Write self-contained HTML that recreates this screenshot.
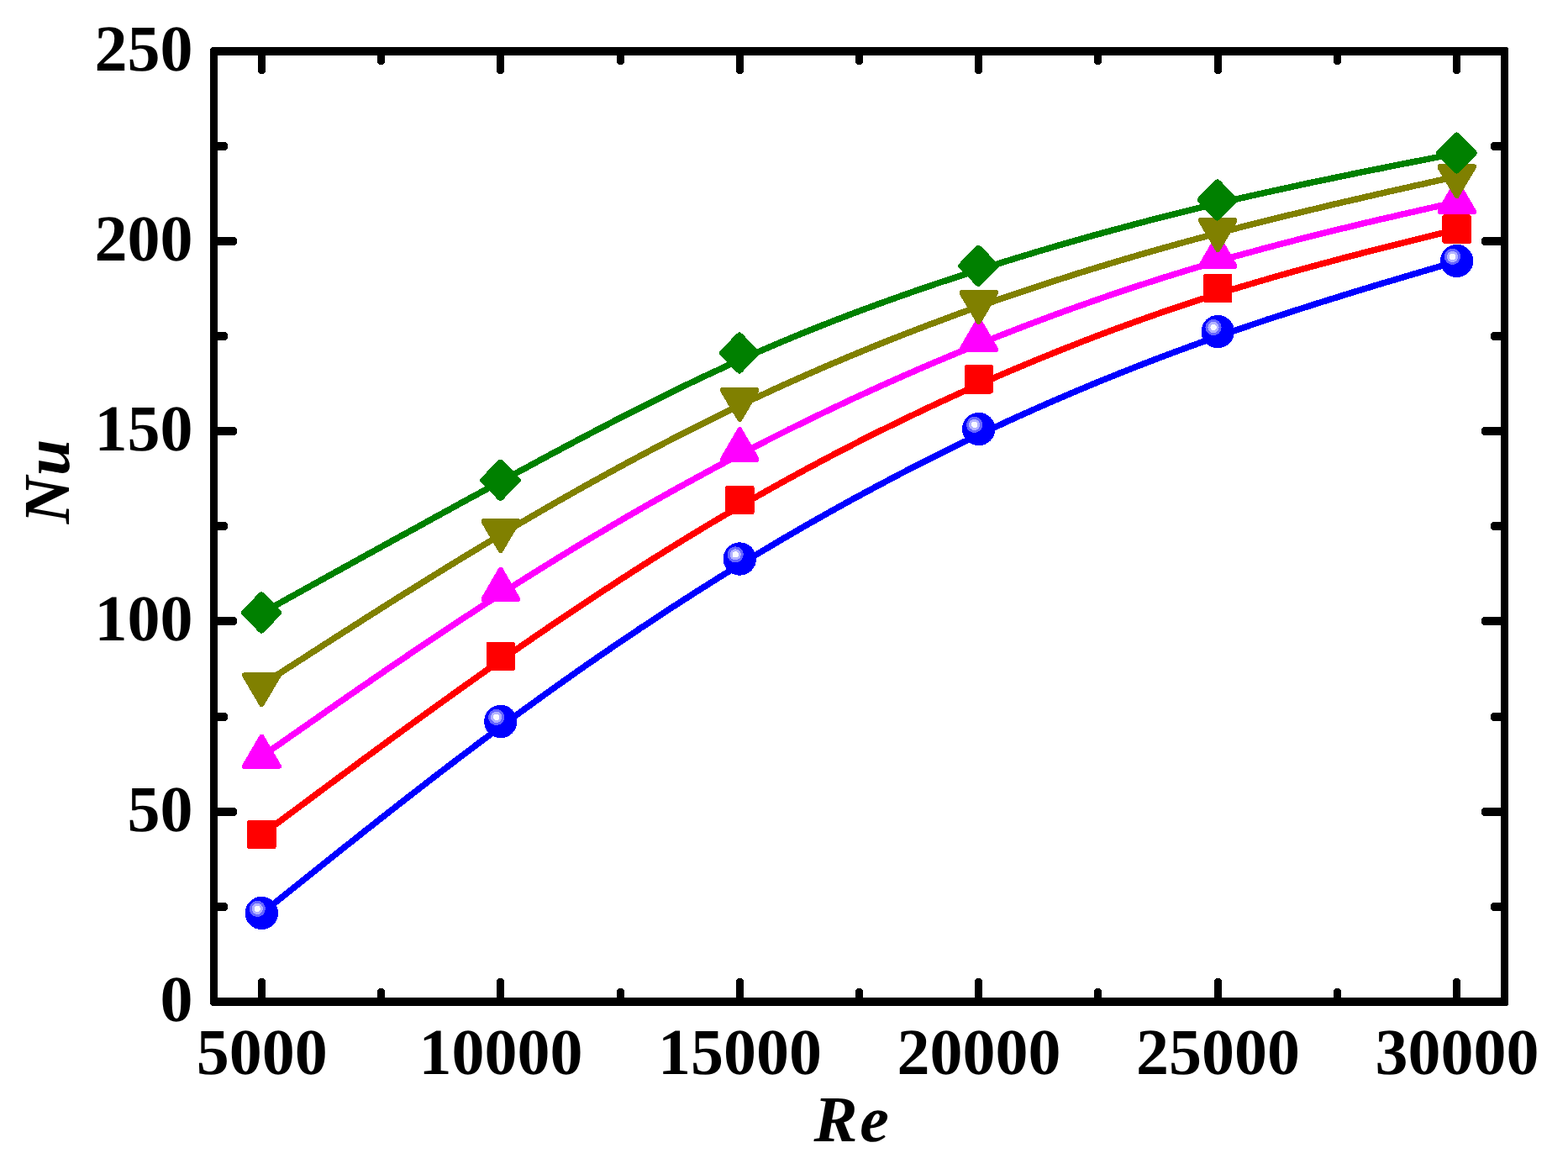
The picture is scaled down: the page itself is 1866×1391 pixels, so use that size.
<!DOCTYPE html>
<html lang="en">
<head>
<meta charset="utf-8">
<title>Nu versus Re</title>
<style>
html,body{margin:0;padding:0;background:#ffffff;}
body{width:1866px;height:1391px;overflow:hidden;}
svg{display:block;}
text{font-family:"Liberation Serif",serif;font-weight:bold;fill:#000000;text-rendering:geometricPrecision;}
.tick{font-size:78px;}
.title{font-size:78px;font-style:italic;}
</style>
</head>
<body>
<svg width="1866" height="1391" viewBox="0 0 1866 1391">
<rect x="0" y="0" width="1866" height="1391" fill="#ffffff"/>

<g id="series-blue" shape-rendering="crispEdges">
<path d="M311.4,1087.0 L311.4,1087.0 L311.4,1087.0 L311.5,1086.9 L311.6,1086.8 L311.8,1086.7 L312.1,1086.4 L312.6,1086.1 L313.1,1085.6 L313.9,1085.0 L314.8,1084.3 L316.0,1083.3 L317.3,1082.3 L318.9,1081.0 L320.8,1079.5 L323.0,1077.7 L325.4,1075.7 L328.2,1073.5 L331.4,1071.0 L334.9,1068.1 L338.8,1065.0 L343.1,1061.5 L347.9,1057.7 L353.1,1053.6 L358.8,1049.0 L365.0,1044.1 L371.6,1038.7 L378.7,1033.1 L386.2,1027.0 L394.2,1020.7 L402.5,1014.1 L411.2,1007.1 L420.3,1000.0 L429.6,992.5 L439.3,984.9 L449.3,977.0 L459.5,969.0 L470.0,960.8 L480.7,952.4 L491.7,943.9 L502.8,935.3 L514.0,926.6 L525.5,917.8 L537.0,909.0 L548.6,900.2 L560.4,891.3 L572.2,882.4 L584.0,873.6 L595.8,864.7 L607.7,856.0 L619.5,847.3 L631.4,838.7 L643.2,830.1 L655.1,821.6 L666.9,813.2 L678.8,804.8 L690.6,796.4 L702.5,788.2 L714.4,780.0 L726.2,771.9 L738.1,763.8 L749.9,755.8 L761.8,747.8 L773.6,740.0 L785.5,732.1 L797.3,724.4 L809.2,716.7 L821.0,709.1 L832.9,701.5 L844.7,694.1 L856.6,686.6 L868.4,679.3 L880.3,672.0 L892.1,664.8 L904.0,657.6 L915.8,650.6 L927.7,643.5 L939.5,636.6 L951.4,629.7 L963.2,622.9 L975.1,616.2 L986.9,609.5 L998.8,602.9 L1010.6,596.3 L1022.5,589.9 L1034.4,583.5 L1046.2,577.1 L1058.1,570.9 L1069.9,564.6 L1081.8,558.5 L1093.6,552.4 L1105.5,546.4 L1117.3,540.5 L1129.2,534.6 L1141.0,528.8 L1152.9,523.1 L1164.7,517.4 L1176.6,511.8 L1188.4,506.3 L1200.3,500.8 L1212.1,495.4 L1224.0,490.1 L1235.8,484.8 L1247.7,479.6 L1259.5,474.5 L1271.4,469.4 L1283.2,464.4 L1295.1,459.4 L1306.9,454.5 L1318.8,449.7 L1330.6,444.9 L1342.5,440.2 L1354.4,435.5 L1366.2,430.9 L1378.1,426.4 L1389.9,421.9 L1401.8,417.5 L1413.6,413.2 L1425.5,408.8 L1437.3,404.6 L1449.2,400.4 L1461.0,396.3 L1472.8,392.2 L1484.6,388.2 L1496.4,384.2 L1508.0,380.3 L1519.5,376.5 L1531.0,372.8 L1542.2,369.2 L1553.3,365.6 L1564.3,362.1 L1575.0,358.7 L1585.5,355.5 L1595.7,352.3 L1605.7,349.2 L1615.4,346.2 L1624.7,343.4 L1633.8,340.6 L1642.5,338.0 L1650.8,335.5 L1658.8,333.2 L1666.3,330.9 L1673.4,328.8 L1680.0,326.8 L1686.2,325.0 L1691.9,323.3 L1697.1,321.8 L1701.9,320.4 L1706.2,319.1 L1710.1,318.0 L1713.6,316.9 L1716.8,316.0 L1719.6,315.2 L1722.0,314.4 L1724.2,313.8 L1726.1,313.2 L1727.7,312.8 L1729.0,312.3 L1730.2,312.0 L1731.1,311.7 L1731.9,311.5 L1732.4,311.3 L1732.9,311.2 L1733.2,311.1 L1733.4,311.1 L1733.5,311.0 L1733.6,311.0 L1733.6,311.0 L1733.6,311.0" fill="none" stroke="#0000ff" stroke-width="7.5" stroke-linejoin="round" stroke-linecap="round"/>
<g fill="#0000ff" stroke="#0000ff" stroke-width="8.0" stroke-linejoin="round">
<circle cx="311.4" cy="1086.5" r="19.7" stroke="none"/>
<circle cx="306.3" cy="1081.4" r="9.6" fill="#6666ff" stroke="none"/>
<circle cx="306.3" cy="1081.4" r="6.6" fill="#b2b2ff" stroke="none"/>
<circle cx="306.3" cy="1081.4" r="3.6" fill="#fafaff" stroke="none"/>
<circle cx="595.8" cy="858.5" r="19.7" stroke="none"/>
<circle cx="590.7" cy="853.4" r="9.6" fill="#6666ff" stroke="none"/>
<circle cx="590.7" cy="853.4" r="6.6" fill="#b2b2ff" stroke="none"/>
<circle cx="590.7" cy="853.4" r="3.6" fill="#fafaff" stroke="none"/>
<circle cx="880.3" cy="665.0" r="19.7" stroke="none"/>
<circle cx="875.2" cy="659.9" r="9.6" fill="#6666ff" stroke="none"/>
<circle cx="875.2" cy="659.9" r="6.6" fill="#b2b2ff" stroke="none"/>
<circle cx="875.2" cy="659.9" r="3.6" fill="#fafaff" stroke="none"/>
<circle cx="1164.7" cy="510.5" r="19.7" stroke="none"/>
<circle cx="1159.6" cy="505.4" r="9.6" fill="#6666ff" stroke="none"/>
<circle cx="1159.6" cy="505.4" r="6.6" fill="#b2b2ff" stroke="none"/>
<circle cx="1159.6" cy="505.4" r="3.6" fill="#fafaff" stroke="none"/>
<circle cx="1449.2" cy="394.6" r="19.7" stroke="none"/>
<circle cx="1444.1" cy="389.5" r="9.6" fill="#6666ff" stroke="none"/>
<circle cx="1444.1" cy="389.5" r="6.6" fill="#b2b2ff" stroke="none"/>
<circle cx="1444.1" cy="389.5" r="3.6" fill="#fafaff" stroke="none"/>
<circle cx="1733.6" cy="310.5" r="19.7" stroke="none"/>
<circle cx="1728.5" cy="305.4" r="9.6" fill="#6666ff" stroke="none"/>
<circle cx="1728.5" cy="305.4" r="6.6" fill="#b2b2ff" stroke="none"/>
<circle cx="1728.5" cy="305.4" r="3.6" fill="#fafaff" stroke="none"/>
</g></g>
<g id="series-red" shape-rendering="crispEdges">
<path d="M311.4,993.4 L311.4,993.4 L311.4,993.4 L311.5,993.3 L311.6,993.2 L311.8,993.1 L312.1,992.8 L312.6,992.5 L313.1,992.1 L313.9,991.5 L314.8,990.8 L316.0,990.0 L317.3,989.0 L318.9,987.8 L320.8,986.4 L323.0,984.8 L325.4,982.9 L328.2,980.8 L331.4,978.5 L334.9,975.9 L338.8,973.0 L343.1,969.7 L347.9,966.2 L353.1,962.3 L358.8,958.1 L365.0,953.5 L371.6,948.5 L378.7,943.3 L386.2,937.7 L394.2,931.8 L402.5,925.6 L411.2,919.2 L420.3,912.5 L429.6,905.5 L439.3,898.4 L449.3,891.1 L459.5,883.6 L470.0,875.9 L480.7,868.1 L491.7,860.1 L502.8,852.1 L514.0,844.0 L525.5,835.7 L537.0,827.5 L548.6,819.1 L560.4,810.8 L572.2,802.4 L584.0,794.1 L595.8,785.8 L607.7,777.5 L619.5,769.3 L631.4,761.1 L643.2,753.0 L655.1,744.9 L666.9,736.9 L678.8,728.9 L690.6,721.0 L702.5,713.1 L714.4,705.3 L726.2,697.6 L738.1,689.9 L749.9,682.2 L761.8,674.7 L773.6,667.1 L785.5,659.7 L797.3,652.3 L809.2,645.0 L821.0,637.7 L832.9,630.5 L844.7,623.4 L856.6,616.4 L868.4,609.4 L880.3,602.5 L892.1,595.7 L904.0,588.9 L915.8,582.2 L927.7,575.6 L939.5,569.1 L951.4,562.6 L963.2,556.2 L975.1,549.9 L986.9,543.6 L998.8,537.4 L1010.6,531.3 L1022.5,525.2 L1034.4,519.2 L1046.2,513.3 L1058.1,507.5 L1069.9,501.7 L1081.8,496.0 L1093.6,490.3 L1105.5,484.7 L1117.3,479.2 L1129.2,473.7 L1141.0,468.3 L1152.9,463.0 L1164.7,457.7 L1176.6,452.5 L1188.4,447.3 L1200.3,442.2 L1212.1,437.2 L1224.0,432.2 L1235.8,427.3 L1247.7,422.5 L1259.5,417.7 L1271.4,413.0 L1283.2,408.3 L1295.1,403.7 L1306.9,399.2 L1318.8,394.7 L1330.6,390.3 L1342.5,386.0 L1354.4,381.7 L1366.2,377.5 L1378.1,373.3 L1389.9,369.2 L1401.8,365.2 L1413.6,361.3 L1425.5,357.4 L1437.3,353.6 L1449.2,349.8 L1461.0,346.1 L1472.8,342.5 L1484.6,339.0 L1496.4,335.5 L1508.0,332.1 L1519.5,328.7 L1531.0,325.5 L1542.2,322.3 L1553.3,319.3 L1564.3,316.3 L1575.0,313.4 L1585.5,310.6 L1595.7,307.8 L1605.7,305.2 L1615.4,302.7 L1624.7,300.3 L1633.8,298.0 L1642.5,295.7 L1650.8,293.6 L1658.8,291.7 L1666.3,289.8 L1673.4,288.0 L1680.0,286.4 L1686.2,284.8 L1691.9,283.4 L1697.1,282.1 L1701.9,281.0 L1706.2,279.9 L1710.1,278.9 L1713.6,278.1 L1716.8,277.3 L1719.6,276.6 L1722.0,276.0 L1724.2,275.4 L1726.1,275.0 L1727.7,274.6 L1729.0,274.2 L1730.2,273.9 L1731.1,273.7 L1731.9,273.5 L1732.4,273.4 L1732.9,273.3 L1733.2,273.2 L1733.4,273.2 L1733.5,273.1 L1733.6,273.1 L1733.6,273.1 L1733.6,273.1" fill="none" stroke="#ff0000" stroke-width="7.5" stroke-linejoin="round" stroke-linecap="round"/>
<g fill="#ff0000" stroke="#ff0000" stroke-width="8.0" stroke-linejoin="round">
<rect x="294.2" y="975.7" width="34.4" height="34.4" rx="2.6" stroke="none"/>
<rect x="578.6" y="763.8" width="34.4" height="34.4" rx="2.6" stroke="none"/>
<rect x="863.1" y="577.7" width="34.4" height="34.4" rx="2.6" stroke="none"/>
<rect x="1147.5" y="434.1" width="34.4" height="34.4" rx="2.6" stroke="none"/>
<rect x="1432.0" y="325.8" width="34.4" height="34.4" rx="2.6" stroke="none"/>
<rect x="1716.4" y="255.4" width="34.4" height="34.4" rx="2.6" stroke="none"/>
</g></g>
<g id="series-magenta" shape-rendering="crispEdges">
<path d="M311.4,900.2 L311.4,900.2 L311.4,900.2 L311.5,900.1 L311.6,900.0 L311.8,899.9 L312.1,899.7 L312.6,899.4 L313.1,899.0 L313.9,898.5 L314.8,897.8 L316.0,897.0 L317.3,896.1 L318.9,894.9 L320.8,893.6 L323.0,892.1 L325.4,890.4 L328.2,888.4 L331.4,886.2 L334.9,883.8 L338.8,881.0 L343.1,878.0 L347.9,874.7 L353.1,871.0 L358.8,867.1 L365.0,862.8 L371.6,858.1 L378.7,853.2 L386.2,847.9 L394.2,842.4 L402.5,836.6 L411.2,830.6 L420.3,824.3 L429.6,817.8 L439.3,811.2 L449.3,804.3 L459.5,797.3 L470.0,790.2 L480.7,782.9 L491.7,775.5 L502.8,768.0 L514.0,760.5 L525.5,752.9 L537.0,745.2 L548.6,737.5 L560.4,729.8 L572.2,722.1 L584.0,714.4 L595.8,706.8 L607.7,699.2 L619.5,691.7 L631.4,684.2 L643.2,676.8 L655.1,669.5 L666.9,662.2 L678.8,654.9 L690.6,647.8 L702.5,640.6 L714.4,633.6 L726.2,626.6 L738.1,619.6 L749.9,612.7 L761.8,605.9 L773.6,599.1 L785.5,592.4 L797.3,585.8 L809.2,579.2 L821.0,572.7 L832.9,566.2 L844.7,559.8 L856.6,553.4 L868.4,547.2 L880.3,540.9 L892.1,534.8 L904.0,528.7 L915.8,522.6 L927.7,516.7 L939.5,510.7 L951.4,504.9 L963.2,499.1 L975.1,493.4 L986.9,487.7 L998.8,482.1 L1010.6,476.5 L1022.5,471.0 L1034.4,465.6 L1046.2,460.2 L1058.1,454.9 L1069.9,449.6 L1081.8,444.4 L1093.6,439.2 L1105.5,434.1 L1117.3,429.1 L1129.2,424.1 L1141.0,419.2 L1152.9,414.3 L1164.7,409.5 L1176.6,404.8 L1188.4,400.1 L1200.3,395.4 L1212.1,390.8 L1224.0,386.3 L1235.8,381.8 L1247.7,377.4 L1259.5,373.0 L1271.4,368.7 L1283.2,364.5 L1295.1,360.3 L1306.9,356.1 L1318.8,352.0 L1330.6,348.0 L1342.5,344.0 L1354.4,340.1 L1366.2,336.3 L1378.1,332.5 L1389.9,328.7 L1401.8,325.1 L1413.6,321.4 L1425.5,317.9 L1437.3,314.4 L1449.2,310.9 L1461.0,307.5 L1472.8,304.2 L1484.6,301.0 L1496.4,297.8 L1508.0,294.6 L1519.5,291.6 L1531.0,288.6 L1542.2,285.7 L1553.3,282.8 L1564.3,280.1 L1575.0,277.4 L1585.5,274.8 L1595.7,272.3 L1605.7,269.9 L1615.4,267.6 L1624.7,265.3 L1633.8,263.2 L1642.5,261.1 L1650.8,259.2 L1658.8,257.4 L1666.3,255.6 L1673.4,254.0 L1680.0,252.5 L1686.2,251.0 L1691.9,249.7 L1697.1,248.6 L1701.9,247.5 L1706.2,246.5 L1710.1,245.6 L1713.6,244.8 L1716.8,244.1 L1719.6,243.4 L1722.0,242.8 L1724.2,242.4 L1726.1,241.9 L1727.7,241.6 L1729.0,241.2 L1730.2,241.0 L1731.1,240.8 L1731.9,240.6 L1732.4,240.5 L1732.9,240.4 L1733.2,240.3 L1733.4,240.3 L1733.5,240.2 L1733.6,240.2 L1733.6,240.2 L1733.6,240.2" fill="none" stroke="#ff00ff" stroke-width="7.5" stroke-linejoin="round" stroke-linecap="round"/>
<g fill="#ff00ff" stroke="#ff00ff" stroke-width="8.0" stroke-linejoin="round">
<polygon stroke="none" points="290.2,915.0 332.6,915.0 334.5,913.9 334.5,910.3 313.6,874.4 312.4,873.5 310.4,873.5 309.2,874.4 288.3,910.3 288.3,913.9"/>
<polygon stroke="none" points="574.6,716.2 617.0,716.2 618.9,715.1 618.9,711.5 598.0,675.6 596.8,674.7 594.8,674.7 593.6,675.6 572.7,711.5 572.7,715.1"/>
<polygon stroke="none" points="859.1,549.8 901.5,549.8 903.4,548.7 903.4,545.1 882.5,509.2 881.3,508.3 879.3,508.3 878.1,509.2 857.2,545.1 857.2,548.7"/>
<polygon stroke="none" points="1143.5,419.0 1185.9,419.0 1187.8,417.9 1187.8,414.3 1166.9,378.4 1165.7,377.5 1163.7,377.5 1162.5,378.4 1141.6,414.3 1141.6,417.9"/>
<polygon stroke="none" points="1428.0,320.1 1470.4,320.1 1472.3,319.0 1472.3,315.4 1451.4,279.5 1450.2,278.6 1448.2,278.6 1447.0,279.5 1426.1,315.4 1426.1,319.0"/>
<polygon stroke="none" points="1712.4,255.0 1754.8,255.0 1756.7,253.9 1756.7,250.3 1735.8,214.4 1734.6,213.5 1732.6,213.5 1731.4,214.4 1710.5,250.3 1710.5,253.9"/>
</g></g>
<g id="series-olive" shape-rendering="crispEdges">
<path d="M311.4,815.0 L311.4,815.0 L311.4,815.0 L311.5,814.9 L311.6,814.9 L311.8,814.7 L312.1,814.5 L312.6,814.2 L313.1,813.9 L313.9,813.4 L314.8,812.8 L316.0,812.1 L317.3,811.2 L318.9,810.1 L320.8,808.9 L323.0,807.5 L325.4,806.0 L328.2,804.1 L331.4,802.1 L334.9,799.9 L338.8,797.3 L343.1,794.5 L347.9,791.5 L353.1,788.1 L358.8,784.5 L365.0,780.5 L371.6,776.2 L378.7,771.7 L386.2,766.8 L394.2,761.7 L402.5,756.4 L411.2,750.8 L420.3,745.1 L429.6,739.1 L439.3,732.9 L449.3,726.6 L459.5,720.1 L470.0,713.5 L480.7,706.8 L491.7,700.0 L502.8,693.1 L514.0,686.1 L525.5,679.0 L537.0,671.9 L548.6,664.8 L560.4,657.7 L572.2,650.5 L584.0,643.4 L595.8,636.3 L607.7,629.3 L619.5,622.3 L631.4,615.3 L643.2,608.5 L655.1,601.6 L666.9,594.8 L678.8,588.1 L690.6,581.4 L702.5,574.8 L714.4,568.2 L726.2,561.7 L738.1,555.2 L749.9,548.8 L761.8,542.5 L773.6,536.2 L785.5,529.9 L797.3,523.8 L809.2,517.7 L821.0,511.6 L832.9,505.7 L844.7,499.8 L856.6,493.9 L868.4,488.2 L880.3,482.5 L892.1,476.8 L904.0,471.3 L915.8,465.8 L927.7,460.3 L939.5,455.0 L951.4,449.7 L963.2,444.5 L975.1,439.3 L986.9,434.2 L998.8,429.2 L1010.6,424.2 L1022.5,419.3 L1034.4,414.4 L1046.2,409.6 L1058.1,404.9 L1069.9,400.2 L1081.8,395.6 L1093.6,391.0 L1105.5,386.5 L1117.3,382.1 L1129.2,377.7 L1141.0,373.3 L1152.9,369.0 L1164.7,364.8 L1176.6,360.6 L1188.4,356.5 L1200.3,352.4 L1212.1,348.4 L1224.0,344.4 L1235.8,340.5 L1247.7,336.6 L1259.5,332.8 L1271.4,329.0 L1283.2,325.2 L1295.1,321.5 L1306.9,317.9 L1318.8,314.3 L1330.6,310.7 L1342.5,307.2 L1354.4,303.7 L1366.2,300.3 L1378.1,296.9 L1389.9,293.6 L1401.8,290.3 L1413.6,287.0 L1425.5,283.8 L1437.3,280.6 L1449.2,277.5 L1461.0,274.4 L1472.8,271.3 L1484.6,268.3 L1496.4,265.3 L1508.0,262.4 L1519.5,259.5 L1531.0,256.7 L1542.2,254.0 L1553.3,251.3 L1564.3,248.7 L1575.0,246.1 L1585.5,243.6 L1595.7,241.2 L1605.7,238.9 L1615.4,236.7 L1624.7,234.5 L1633.8,232.4 L1642.5,230.4 L1650.8,228.5 L1658.8,226.7 L1666.3,225.0 L1673.4,223.4 L1680.0,221.9 L1686.2,220.5 L1691.9,219.3 L1697.1,218.1 L1701.9,217.0 L1706.2,216.1 L1710.1,215.2 L1713.6,214.4 L1716.8,213.7 L1719.6,213.1 L1722.0,212.5 L1724.2,212.0 L1726.1,211.6 L1727.7,211.2 L1729.0,210.9 L1730.2,210.7 L1731.1,210.5 L1731.9,210.3 L1732.4,210.2 L1732.9,210.1 L1733.2,210.0 L1733.4,209.9 L1733.5,209.9 L1733.6,209.9 L1733.6,209.9 L1733.6,209.9" fill="none" stroke="#808000" stroke-width="7.5" stroke-linejoin="round" stroke-linecap="round"/>
<g fill="#808000" stroke="#808000" stroke-width="8.0" stroke-linejoin="round">
<polygon stroke="none" points="290.2,800.2 332.6,800.2 334.5,801.3 334.5,804.9 313.6,840.4 312.4,841.3 310.4,841.3 309.2,840.4 288.3,804.9 288.3,801.3"/>
<polygon stroke="none" points="574.6,617.0 617.0,617.0 618.9,618.1 618.9,621.7 598.0,657.2 596.8,658.1 594.8,658.1 593.6,657.2 572.7,621.7 572.7,618.1"/>
<polygon stroke="none" points="859.1,461.0 901.5,461.0 903.4,462.1 903.4,465.7 882.5,501.2 881.3,502.1 879.3,502.1 878.1,501.2 857.2,465.7 857.2,462.1"/>
<polygon stroke="none" points="1143.5,345.0 1185.9,345.0 1187.8,346.1 1187.8,349.7 1166.9,385.2 1165.7,386.1 1163.7,386.1 1162.5,385.2 1141.6,349.7 1141.6,346.1"/>
<polygon stroke="none" points="1428.0,259.0 1470.4,259.0 1472.3,260.1 1472.3,263.7 1451.4,299.2 1450.2,300.1 1448.2,300.1 1447.0,299.2 1426.1,263.7 1426.1,260.1"/>
<polygon stroke="none" points="1712.4,195.1 1754.8,195.1 1756.7,196.2 1756.7,199.8 1735.8,235.3 1734.6,236.2 1732.6,236.2 1731.4,235.3 1710.5,199.8 1710.5,196.2"/>
</g></g>
<g id="series-green" shape-rendering="crispEdges">
<path d="M311.4,729.5 L311.4,729.5 L311.4,729.5 L311.5,729.4 L311.6,729.4 L311.8,729.3 L312.1,729.1 L312.6,728.8 L313.1,728.5 L313.9,728.1 L314.8,727.6 L316.0,727.0 L317.3,726.2 L318.9,725.3 L320.8,724.3 L323.0,723.1 L325.4,721.7 L328.2,720.2 L331.4,718.4 L334.9,716.5 L338.8,714.3 L343.1,711.9 L347.9,709.3 L353.1,706.4 L358.8,703.2 L365.0,699.8 L371.6,696.1 L378.7,692.2 L386.2,688.0 L394.2,683.6 L402.5,679.0 L411.2,674.2 L420.3,669.2 L429.6,664.0 L439.3,658.7 L449.3,653.2 L459.5,647.5 L470.0,641.8 L480.7,635.9 L491.7,629.9 L502.8,623.8 L514.0,617.6 L525.5,611.3 L537.0,605.0 L548.6,598.6 L560.4,592.2 L572.2,585.8 L584.0,579.4 L595.8,572.9 L607.7,566.5 L619.5,560.1 L631.4,553.7 L643.2,547.3 L655.1,540.9 L666.9,534.6 L678.8,528.3 L690.6,522.0 L702.5,515.8 L714.4,509.6 L726.2,503.4 L738.1,497.3 L749.9,491.3 L761.8,485.2 L773.6,479.3 L785.5,473.4 L797.3,467.5 L809.2,461.7 L821.0,456.0 L832.9,450.3 L844.7,444.8 L856.6,439.3 L868.4,433.8 L880.3,428.5 L892.1,423.2 L904.0,418.0 L915.8,412.9 L927.7,407.9 L939.5,402.9 L951.4,398.0 L963.2,393.2 L975.1,388.5 L986.9,383.8 L998.8,379.2 L1010.6,374.7 L1022.5,370.2 L1034.4,365.8 L1046.2,361.5 L1058.1,357.2 L1069.9,353.0 L1081.8,348.8 L1093.6,344.7 L1105.5,340.6 L1117.3,336.6 L1129.2,332.7 L1141.0,328.8 L1152.9,324.9 L1164.7,321.1 L1176.6,317.3 L1188.4,313.6 L1200.3,309.9 L1212.1,306.3 L1224.0,302.7 L1235.8,299.1 L1247.7,295.6 L1259.5,292.1 L1271.4,288.7 L1283.2,285.3 L1295.1,281.9 L1306.9,278.6 L1318.8,275.4 L1330.6,272.2 L1342.5,269.0 L1354.4,265.8 L1366.2,262.7 L1378.1,259.7 L1389.9,256.7 L1401.8,253.7 L1413.6,250.7 L1425.5,247.8 L1437.3,245.0 L1449.2,242.2 L1461.0,239.4 L1472.8,236.6 L1484.6,234.0 L1496.4,231.3 L1508.0,228.7 L1519.5,226.2 L1531.0,223.7 L1542.2,221.2 L1553.3,218.8 L1564.3,216.5 L1575.0,214.3 L1585.5,212.1 L1595.7,210.0 L1605.7,207.9 L1615.4,205.9 L1624.7,204.0 L1633.8,202.2 L1642.5,200.5 L1650.8,198.8 L1658.8,197.2 L1666.3,195.7 L1673.4,194.3 L1680.0,193.0 L1686.2,191.8 L1691.9,190.7 L1697.1,189.7 L1701.9,188.7 L1706.2,187.9 L1710.1,187.1 L1713.6,186.4 L1716.8,185.8 L1719.6,185.3 L1722.0,184.8 L1724.2,184.3 L1726.1,184.0 L1727.7,183.7 L1729.0,183.4 L1730.2,183.2 L1731.1,183.0 L1731.9,182.8 L1732.4,182.7 L1732.9,182.6 L1733.2,182.6 L1733.4,182.5 L1733.5,182.5 L1733.6,182.5 L1733.6,182.5 L1733.6,182.5" fill="none" stroke="#008000" stroke-width="7.5" stroke-linejoin="round" stroke-linecap="round"/>
<g fill="#008000" stroke="#008000" stroke-width="8.0" stroke-linejoin="round">
<polygon points="311.1,708.5 331.2,729.0 311.1,749.5 290.9,729.0"/>
<polygon points="595.5,550.9 615.7,571.4 595.5,591.9 575.4,571.4"/>
<polygon points="880.0,399.6 900.1,420.0 880.0,440.4 859.8,420.0"/>
<polygon points="1164.4,295.9 1184.6,316.4 1164.4,336.8 1144.3,316.4"/>
<polygon points="1448.9,217.5 1469.0,237.9 1448.9,258.4 1428.7,237.9"/>
<polygon points="1733.3,161.6 1753.5,182.0 1733.3,202.4 1713.2,182.0"/>
</g></g>
<g id="axes" fill="#000000" shape-rendering="crispEdges">
<path fill-rule="evenodd" d="M252,56 H1793 L1795,58 V1195 L1793,1197 H252 L250,1195 V58 Z M259,66 V1187 H1786 V66 Z"/>
<rect x="307" y="60" width="9" height="28" rx="4"/>
<rect x="307" y="1164" width="9" height="29" rx="4"/>
<rect x="449" y="60" width="9" height="17" rx="4"/>
<rect x="449" y="1176" width="9" height="17" rx="4"/>
<rect x="591" y="60" width="9" height="28" rx="4"/>
<rect x="591" y="1164" width="9" height="29" rx="4"/>
<rect x="734" y="60" width="9" height="17" rx="4"/>
<rect x="734" y="1176" width="9" height="17" rx="4"/>
<rect x="876" y="60" width="9" height="28" rx="4"/>
<rect x="876" y="1164" width="9" height="29" rx="4"/>
<rect x="1018" y="60" width="9" height="17" rx="4"/>
<rect x="1018" y="1176" width="9" height="17" rx="4"/>
<rect x="1160" y="60" width="9" height="28" rx="4"/>
<rect x="1160" y="1164" width="9" height="29" rx="4"/>
<rect x="1302" y="60" width="9" height="17" rx="4"/>
<rect x="1302" y="1176" width="9" height="17" rx="4"/>
<rect x="1445" y="60" width="9" height="28" rx="4"/>
<rect x="1445" y="1164" width="9" height="29" rx="4"/>
<rect x="1587" y="60" width="9" height="17" rx="4"/>
<rect x="1587" y="1176" width="9" height="17" rx="4"/>
<rect x="1729" y="60" width="9" height="28" rx="4"/>
<rect x="1729" y="1164" width="9" height="29" rx="4"/>
<rect x="254" y="1074" width="17" height="10" rx="4"/>
<rect x="1774" y="1074" width="17" height="10" rx="4"/>
<rect x="254" y="961" width="28" height="10" rx="4"/>
<rect x="1763" y="961" width="28" height="10" rx="4"/>
<rect x="254" y="848" width="17" height="10" rx="4"/>
<rect x="1774" y="848" width="17" height="10" rx="4"/>
<rect x="254" y="734" width="28" height="10" rx="4"/>
<rect x="1763" y="734" width="28" height="10" rx="4"/>
<rect x="254" y="621" width="17" height="10" rx="4"/>
<rect x="1774" y="621" width="17" height="10" rx="4"/>
<rect x="254" y="508" width="28" height="10" rx="4"/>
<rect x="1763" y="508" width="28" height="10" rx="4"/>
<rect x="254" y="395" width="17" height="10" rx="4"/>
<rect x="1774" y="395" width="17" height="10" rx="4"/>
<rect x="254" y="282" width="28" height="10" rx="4"/>
<rect x="1763" y="282" width="28" height="10" rx="4"/>
<rect x="254" y="169" width="17" height="10" rx="4"/>
<rect x="1774" y="169" width="17" height="10" rx="4"/>
</g>
<g id="labels">
<text class="tick" transform="translate(311.7,1277.9)" text-anchor="middle">5000</text>
<text class="tick" transform="translate(596.1,1277.9)" text-anchor="middle">10000</text>
<text class="tick" transform="translate(880.6,1277.9)" text-anchor="middle">15000</text>
<text class="tick" transform="translate(1165.0,1277.9)" text-anchor="middle">20000</text>
<text class="tick" transform="translate(1449.5,1277.9)" text-anchor="middle">25000</text>
<text class="tick" transform="translate(1733.9,1277.9)" text-anchor="middle">30000</text>
<text class="tick" transform="translate(229.5,1214.7)" text-anchor="end">0</text>
<text class="tick" transform="translate(229.5,988.5)" text-anchor="end">50</text>
<text class="tick" transform="translate(229.5,762.3)" text-anchor="end">100</text>
<text class="tick" transform="translate(229.5,536.1)" text-anchor="end">150</text>
<text class="tick" transform="translate(229.5,309.9)" text-anchor="end">200</text>
<text class="tick" transform="translate(229.5,83.7)" text-anchor="end">250</text>
<text class="title" x="1014.5" y="1357.5" text-anchor="middle" letter-spacing="2.6">Re</text>
<text class="title" transform="translate(82,572.5) rotate(-90)" text-anchor="middle" letter-spacing="1">Nu</text>
</g>
</svg>
</body>
</html>
